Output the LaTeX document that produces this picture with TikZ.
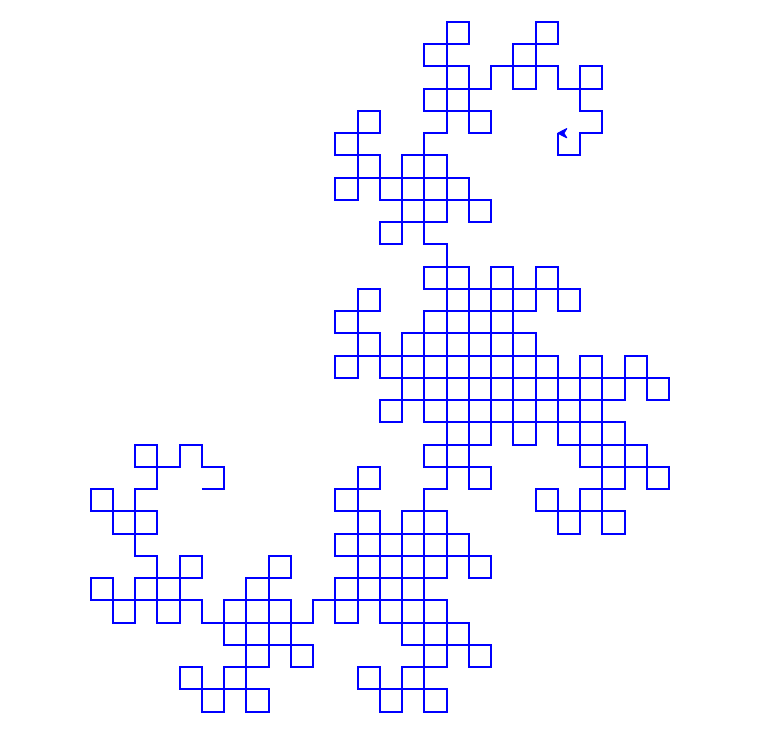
\documentclass[tikz,border=0pt]{standalone}
\newcount\drgN \newcount\drgM \newcount\drgT \newcount\drgD
\newdimen\drgX \newdimen\drgY
\def\drgOdd{\ifodd\drgM\else\divide\drgM by 2 \expandafter\drgOdd\fi}
\def\drgStep{%
  \ifcase\drgD \advance\drgX by 22.25pt
  \or \advance\drgY by 22.25pt
  \or \advance\drgX by -22.25pt
  \or \advance\drgY by -22.25pt
  \fi}
\tikzset{
  dragon/.style={draw=blue,line width=2pt,line join=miter,line cap=butt},
  dragonhead/.style={fill=blue,draw=blue,line width=1pt,line join=round}
}
\begin{document}
\begin{tikzpicture}[x=1pt,y=1pt]
\useasboundingbox (0,0) rectangle (774,746);
\fill[white] (0,0) rectangle (774,746);
\drgX=201.8pt \drgY=256.8pt \drgD=0 \drgN=1
\edef\drgPath{(\the\drgX,\the\drgY)}
\loop
  \drgStep
  \edef\drgPath{\drgPath -- (\the\drgX,\the\drgY)}
  \drgM=\drgN \drgOdd
  \drgT=\drgM \divide\drgT by 4 \multiply\drgT by 4
  \advance\drgM by -\drgT
  \ifnum\drgM=1 \advance\drgD by 1 \else \advance\drgD by 3 \fi
  \drgT=\drgD \divide\drgT by 4 \multiply\drgT by 4
  \advance\drgD by -\drgT
  \advance\drgN by 1
\ifnum\drgN<513 \repeat
\edef\drgCmd{\noexpand\draw[dragon] \drgPath;
  \noexpand\coordinate (dragonend) at (\the\drgX,\the\drgY);}
\drgCmd
\path[dragonhead] (dragonend) -- ++(9,4.6) -- ++(-3,-4.6) -- ++(3,-4.6) -- cycle;
\end{tikzpicture}
\end{document}
